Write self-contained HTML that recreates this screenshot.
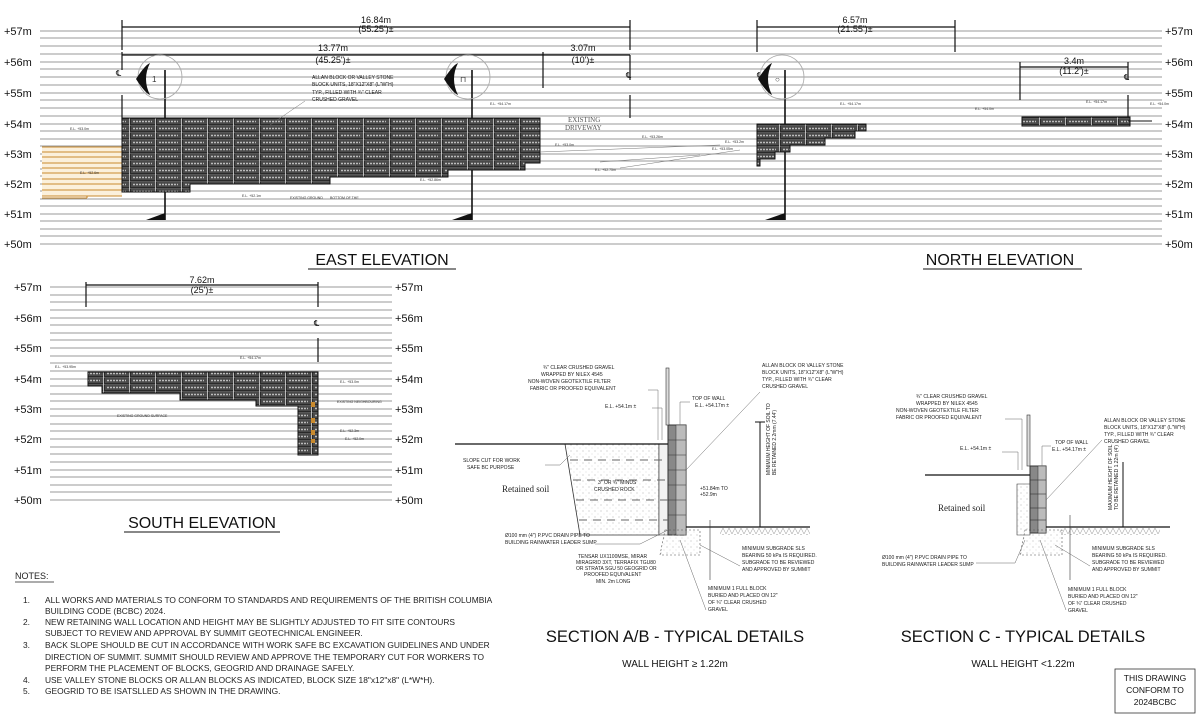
<!DOCTYPE html>
<html><head><meta charset="utf-8"><style>
html,body{margin:0;padding:0;background:#fff;}
svg{display:block;font-family:"Liberation Sans",sans-serif;}
</style></head><body>
<svg width="1200" height="717" viewBox="0 0 1200 717" xmlns="http://www.w3.org/2000/svg">
<defs>
<pattern id="blk" x="0" y="118" width="26" height="7" patternUnits="userSpaceOnUse">
<rect width="26" height="7" fill="#2a2a2a"/>
<rect x="1" y="1" width="24" height="5" fill="#4a4a4a"/>
<line x1="3" y1="3.5" x2="22" y2="3.5" stroke="#bbb" stroke-width="1.4" stroke-dasharray="2 1"/>
<line x1="0" y1="0" x2="26" y2="0" stroke="#ddd" stroke-width="0.6"/>
<line x1="25.5" y1="0" x2="25.5" y2="7" stroke="#ddd" stroke-width="0.8"/>
</pattern>
<pattern id="dots" width="6" height="6" patternUnits="userSpaceOnUse">
<circle cx="1" cy="1" r="0.5" fill="#999"/><circle cx="4" cy="4" r="0.4" fill="#aaa"/>
</pattern>
<pattern id="hatch" width="6" height="6" patternUnits="userSpaceOnUse">
<path d="M0 6 L3 0 L6 6" fill="none" stroke="#aaa" stroke-width="0.6"/>
</pattern>
</defs>

<g stroke="#777" stroke-width="0.8">
<line x1="40" y1="31" x2="1162" y2="31"/><line x1="40" y1="38" x2="1162" y2="38"/><line x1="40" y1="46" x2="1162" y2="46"/><line x1="40" y1="54" x2="1162" y2="54"/>
<line x1="40" y1="62" x2="1162" y2="62"/><line x1="40" y1="69" x2="1162" y2="69"/><line x1="40" y1="77" x2="1162" y2="77"/><line x1="40" y1="85" x2="1162" y2="85"/>
<line x1="40" y1="93" x2="1162" y2="93"/><line x1="40" y1="100" x2="1162" y2="100"/><line x1="40" y1="108" x2="1162" y2="108"/><line x1="40" y1="116" x2="1162" y2="116"/>
<line x1="40" y1="124" x2="1162" y2="124"/><line x1="40" y1="131" x2="1162" y2="131"/><line x1="40" y1="139" x2="1162" y2="139"/><line x1="40" y1="146" x2="1162" y2="146"/>
<line x1="40" y1="154" x2="1162" y2="154"/><line x1="40" y1="161" x2="1162" y2="161"/><line x1="40" y1="169" x2="1162" y2="169"/><line x1="40" y1="176" x2="1162" y2="176"/>
<line x1="40" y1="184" x2="1162" y2="184"/><line x1="40" y1="191" x2="1162" y2="191"/><line x1="40" y1="199" x2="1162" y2="199"/><line x1="40" y1="206" x2="1162" y2="206"/>
<line x1="40" y1="214" x2="1162" y2="214"/><line x1="40" y1="221" x2="1162" y2="221"/><line x1="40" y1="229" x2="1162" y2="229"/><line x1="40" y1="236" x2="1162" y2="236"/>
<line x1="40" y1="244" x2="1162" y2="244"/>
</g>
<g font-size="11" fill="#111">
<text x="4" y="35">+57m</text><text x="4" y="66">+56m</text><text x="4" y="97">+55m</text><text x="4" y="128">+54m</text><text x="4" y="158">+53m</text><text x="4" y="188">+52m</text><text x="4" y="218">+51m</text><text x="4" y="248">+50m</text>
<text x="1165" y="35">+57m</text><text x="1165" y="66">+56m</text><text x="1165" y="97">+55m</text><text x="1165" y="128">+54m</text><text x="1165" y="158">+53m</text><text x="1165" y="188">+52m</text><text x="1165" y="218">+51m</text><text x="1165" y="248">+50m</text>
</g>

<g stroke="#111" stroke-width="1.2" fill="none">
<line x1="122" y1="27" x2="630" y2="27"/><line x1="122" y1="20" x2="122" y2="50"/><line x1="630" y1="20" x2="630" y2="50"/>
<line x1="122" y1="55" x2="630" y2="55"/><line x1="122" y1="52" x2="122" y2="70"/><line x1="543" y1="52" x2="543" y2="88"/><line x1="630" y1="55" x2="630" y2="80"/><line x1="630" y1="95" x2="630" y2="118"/>
<line x1="122" y1="95" x2="122" y2="124"/>
<line x1="757" y1="27" x2="955" y2="27"/><line x1="757" y1="20" x2="757" y2="52"/><line x1="955" y1="20" x2="955" y2="52"/>
<line x1="1020" y1="67" x2="1128" y2="67"/><line x1="1020" y1="62" x2="1020" y2="100"/><line x1="1128" y1="62" x2="1128" y2="80"/><line x1="1128" y1="95" x2="1128" y2="124"/>
</g>
<g font-size="9" fill="#111" text-anchor="middle">
<text x="376" y="23">16.84m</text><text x="376" y="32">(55.25')±</text>
<text x="333" y="51">13.77m</text><text x="333" y="63">(45.25')±</text>
<text x="583" y="51">3.07m</text><text x="583" y="63">(10')±</text>
<text x="855" y="23">6.57m</text><text x="855" y="32">(21.55')±</text>
<text x="1074" y="64">3.4m</text><text x="1074" y="74">(11.2')±</text>
</g>
<g font-size="8" fill="#111"><text x="116" y="76">℄</text><text x="626" y="78">℄</text><text x="757" y="78">℄</text><text x="1124" y="80">℄</text></g>

<g stroke="#111" stroke-width="1.6" fill="none">
<line x1="165" y1="70" x2="165" y2="220"/><line x1="472" y1="70" x2="472" y2="220"/><line x1="785" y1="70" x2="785" y2="220"/>
</g>
<g stroke="#aaa" fill="none" stroke-width="0.8"><circle cx="160" cy="77" r="22"/><circle cx="468" cy="77" r="22"/><circle cx="782" cy="77" r="22"/></g>
<g fill="#111">
<path d="M136 79 Q145 65 150 63 Q142 79 150 95 Q145 93 136 79Z"/>
<path d="M444 79 Q453 65 458 63 Q450 79 458 95 Q453 93 444 79Z"/>
<path d="M758 79 Q767 65 772 63 Q764 79 772 95 Q767 93 758 79Z"/>
<path d="M146 220 L165 213 L165 220Z"/><path d="M452 220 L472 213 L472 220Z"/><path d="M765 220 L785 213 L785 220Z"/>
</g>
<g font-size="8" fill="#333"><text x="152" y="82">1</text><text x="460" y="82">⊓</text><text x="775" y="82">○</text></g>

<g>
<rect x="42" y="147" width="80" height="49" fill="#fbf0dc"/>
<g stroke="#c98a2e" stroke-width="1.1">
<line x1="42" y1="147" x2="122" y2="147"/><line x1="42" y1="152" x2="122" y2="152"/><line x1="42" y1="157" x2="122" y2="157"/><line x1="42" y1="163" x2="122" y2="163"/><line x1="42" y1="168" x2="122" y2="168"/><line x1="42" y1="173" x2="122" y2="173"/><line x1="42" y1="179" x2="122" y2="179"/><line x1="42" y1="184" x2="122" y2="184"/><line x1="42" y1="190" x2="122" y2="190"/><line x1="42" y1="196" x2="122" y2="196"/><line x1="42" y1="198" x2="87" y2="198"/><line x1="87" y1="196" x2="87" y2="198"/>
</g></g>

<path d="M122 118 H540 V163 H525 V170 H448 V177 H330 V184 H190 V192 H122 Z" fill="url(#blk)" stroke="#111"/>
<path d="M757 124 H866 V131 H855 V138 H825 V145 H790 V152 H775 V159 H760 V166 H757 Z" fill="url(#blk)" stroke="#111"/>
<path d="M1022 117 H1130 V126 H1022 Z" fill="url(#blk)" stroke="#111"/>
<line x1="1128" y1="121" x2="1152" y2="121" stroke="#111"/>

<g font-size="3.5" fill="#333">
<text x="70" y="130">E.L. +53.0m</text><text x="80" y="174">E.L. +52.6m</text><text x="490" y="105">E.L. +54.17m</text><text x="555" y="146">E.L. +53.0m</text>
<text x="242" y="197">E.L. +52.1m</text><text x="290" y="199">EXISTING GROUND</text><text x="330" y="199">BOTTOM OF THE</text><text x="420" y="181">E.L. +52.86m</text>
<text x="642" y="138">E.L. +53.26m</text><text x="595" y="171">E.L. +52.75m</text><text x="725" y="143">E.L. +53.2m</text><text x="712" y="150">E.L. +53.05m</text>
<text x="840" y="105">E.L. +54.17m</text><text x="975" y="110">E.L. +54.0m</text><text x="1086" y="103">E.L. +54.17m</text><text x="1150" y="105">E.L. +54.0m</text>
</g>
<g font-size="5" fill="#222"><text x="312" y="79">ALLAN BLOCK OR VALLEY STONE</text><text x="312" y="86">BLOCK UNITS, 18"X12"X8" (L"W"H)</text><text x="312" y="94">TYP., FILLED WITH ¾" CLEAR</text><text x="312" y="101">CRUSHED GRAVEL</text></g>
<g font-family="Liberation Serif,serif" font-size="7" fill="#555"><text x="568" y="122">EXISTING</text><text x="565" y="130">DRIVEWAY</text></g>
<g stroke="#777" stroke-width="0.5" fill="none"><path d="M305 101 L270 125"/><path d="M540 152 L720 145"/><path d="M600 162 L700 155"/><path d="M620 168 L740 150"/></g>

<g font-size="16" fill="#111" text-anchor="middle">
<text x="382" y="265">EAST ELEVATION</text><text x="1000" y="265">NORTH ELEVATION</text>
</g>
<line x1="308" y1="269" x2="456" y2="269" stroke="#111"/><line x1="923" y1="269" x2="1082" y2="269" stroke="#111"/>

<g stroke="#777" stroke-width="0.8">
<line x1="50" y1="287" x2="392" y2="287"/><line x1="50" y1="295" x2="392" y2="295"/><line x1="50" y1="302" x2="392" y2="302"/><line x1="50" y1="310" x2="392" y2="310"/>
<line x1="50" y1="318" x2="392" y2="318"/><line x1="50" y1="325" x2="392" y2="325"/><line x1="50" y1="333" x2="392" y2="333"/><line x1="50" y1="340" x2="392" y2="340"/>
<line x1="50" y1="348" x2="392" y2="348"/><line x1="50" y1="356" x2="392" y2="356"/><line x1="50" y1="363" x2="392" y2="363"/><line x1="50" y1="371" x2="392" y2="371"/>
<line x1="50" y1="379" x2="392" y2="379"/><line x1="50" y1="386" x2="392" y2="386"/><line x1="50" y1="394" x2="392" y2="394"/><line x1="50" y1="401" x2="392" y2="401"/>
<line x1="50" y1="409" x2="392" y2="409"/><line x1="50" y1="416" x2="392" y2="416"/><line x1="50" y1="424" x2="392" y2="424"/><line x1="50" y1="431" x2="392" y2="431"/>
<line x1="50" y1="439" x2="392" y2="439"/><line x1="50" y1="447" x2="392" y2="447"/><line x1="50" y1="454" x2="392" y2="454"/><line x1="50" y1="462" x2="392" y2="462"/>
<line x1="50" y1="470" x2="392" y2="470"/><line x1="50" y1="477" x2="392" y2="477"/><line x1="50" y1="485" x2="392" y2="485"/><line x1="50" y1="492" x2="392" y2="492"/>
<line x1="50" y1="500" x2="392" y2="500"/>
</g>
<g font-size="11" fill="#111">
<text x="14" y="291">+57m</text><text x="14" y="322">+56m</text><text x="14" y="352">+55m</text><text x="14" y="383">+54m</text><text x="14" y="413">+53m</text><text x="14" y="443">+52m</text><text x="14" y="474">+51m</text><text x="14" y="504">+50m</text>
<text x="395" y="291">+57m</text><text x="395" y="322">+56m</text><text x="395" y="352">+55m</text><text x="395" y="383">+54m</text><text x="395" y="413">+53m</text><text x="395" y="443">+52m</text><text x="395" y="474">+51m</text><text x="395" y="504">+50m</text>
</g>
<g stroke="#111" stroke-width="1.2"><line x1="86" y1="285" x2="318" y2="285"/><line x1="86" y1="282" x2="86" y2="307"/><line x1="318" y1="282" x2="318" y2="307"/><line x1="318" y1="338" x2="318" y2="362"/></g>
<g font-size="9" fill="#111" text-anchor="middle"><text x="202" y="283">7.62m</text><text x="202" y="293">(25')±</text></g>
<text x="314" y="326" font-size="8">℄</text>
<path d="M88 372 H318 V455 H298 V406 H256 V400 H180 V393 H102 V386 H88 Z" fill="url(#blk)" stroke="#111"/>
<g fill="#c98a2e"><rect x="311" y="402" width="4" height="5"/><rect x="311" y="418" width="4" height="5"/><rect x="311" y="430" width="4" height="5"/><rect x="311" y="439" width="4" height="4"/></g>
<g font-size="3.5" fill="#333"><text x="55" y="368">E.L. +53.95m</text><text x="240" y="359">E.L. +54.17m</text><text x="340" y="383">E.L. +53.0m</text><text x="337" y="403">EXISTING NEIGHBOURING</text><text x="340" y="432">E.L. +52.3m</text><text x="345" y="440">E.L. +52.0m</text><text x="117" y="417">EXISTING GROUND SURFACE</text></g>
<text x="202" y="528" font-size="16" text-anchor="middle" fill="#111">SOUTH ELEVATION</text>
<line x1="124" y1="532" x2="280" y2="532" stroke="#111"/>

<g fill="#222" font-size="8.4">
<text x="15" y="579" font-size="9">NOTES:</text>
<text x="23" y="603">1.</text><text x="45" y="603">ALL WORKS AND MATERIALS TO CONFORM TO STANDARDS AND REQUIREMENTS OF THE BRITISH COLUMBIA</text>
<text x="45" y="614">BUILDING CODE (BCBC) 2024.</text>
<text x="23" y="625">2.</text><text x="45" y="625">NEW RETAINING WALL LOCATION AND HEIGHT MAY BE SLIGHTLY ADJUSTED TO FIT SITE CONTOURS</text>
<text x="45" y="636">SUBJECT TO REVIEW AND APPROVAL BY SUMMIT GEOTECHNICAL ENGINEER.</text>
<text x="23" y="648">3.</text><text x="45" y="648">BACK SLOPE SHOULD BE CUT IN ACCORDANCE WITH WORK SAFE BC EXCAVATION GUIDELINES AND UNDER</text>
<text x="45" y="660">DIRECTION OF SUMMIT.  SUMMIT SHOULD REVIEW AND APPROVE THE TEMPORARY CUT FOR WORKERS TO</text>
<text x="45" y="671">PERFORM THE PLACEMENT OF BLOCKS, GEOGRID AND DRAINAGE SAFELY.</text>
<text x="23" y="683">4.</text><text x="45" y="683">USE VALLEY STONE BLOCKS OR ALLAN BLOCKS AS INDICATED, BLOCK SIZE 18"x12"x8" (L*W*H).</text>
<text x="23" y="694">5.</text><text x="45" y="694">GEOGRID TO BE ISATSLLED AS SHOWN IN THE DRAWING.</text>
</g>
<line x1="15" y1="582" x2="54" y2="582" stroke="#222" stroke-width="0.8"/>

<g>
<path d="M565 444 L659 444 L659 535 L580 535 Z" fill="url(#dots)" stroke="#333" stroke-width="0.8"/>
<path d="M659 444 H668 V535 H659Z" fill="#f2f2f2" stroke="#333" stroke-width="0.6"/>
<rect x="668" y="425" width="18" height="110" fill="#888" stroke="#333"/>
<rect x="676" y="425" width="10" height="110" fill="#bbb" stroke="#333" stroke-width="0.5"/>
<g stroke="#333" stroke-width="0.6"><line x1="668" y1="440" x2="686" y2="440"/><line x1="668" y1="455" x2="686" y2="455"/><line x1="668" y1="470" x2="686" y2="470"/><line x1="668" y1="485" x2="686" y2="485"/><line x1="668" y1="500" x2="686" y2="500"/><line x1="668" y1="515" x2="686" y2="515"/></g>
<g stroke="#666" stroke-width="1" stroke-dasharray="8 6"><line x1="570" y1="460" x2="668" y2="460"/><line x1="573" y1="480" x2="668" y2="480"/><line x1="576" y1="500" x2="668" y2="500"/><line x1="579" y1="520" x2="668" y2="520"/></g>
<path d="M665 530 H700 V555 H660Z" fill="url(#dots)" stroke="#555" stroke-width="0.6" stroke-dasharray="2 2"/>
<rect x="666" y="368" width="3" height="57" fill="#ddd" stroke="#333" stroke-width="0.6"/>
<line x1="455" y1="444" x2="668" y2="444" stroke="#111" stroke-width="1.2"/>
<line x1="686" y1="527" x2="810" y2="527" stroke="#111" stroke-width="1.2"/>
<rect x="720" y="528" width="90" height="7" fill="url(#hatch)"/>
<line x1="760" y1="422" x2="760" y2="527" stroke="#111"/><line x1="755" y1="422" x2="765" y2="422" stroke="#111"/>
<line x1="710" y1="520" x2="710" y2="580" stroke="#333" stroke-width="0.6"/>
</g>
<g font-size="5" fill="#222">
<text x="543" y="369">¾" CLEAR CRUSHED GRAVEL</text><text x="541" y="376">WRAPPED BY NILEX 4545</text><text x="528" y="383">NON-WOVEN GEOTEXTILE FILTER</text><text x="530" y="390">FABRIC OR PROOFED EQUIVALENT</text>
<text x="605" y="408">E.L. +54.1m ±</text><text x="692" y="400">TOP OF WALL</text><text x="695" y="407">E.L. +54.17m ±</text>
<text x="762" y="367">ALLAN BLOCK OR VALLEY STONE</text><text x="762" y="374">BLOCK UNITS, 18"X12"X8" (L"W"H)</text><text x="762" y="381">TYP., FILLED WITH ¾" CLEAR</text><text x="762" y="388">CRUSHED GRAVEL</text>
<text x="463" y="462">SLOPE CUT FOR WORK</text><text x="467" y="469">SAFE BC PURPOSE</text>
<text x="598" y="484">3" OR ¾" MINUS</text><text x="594" y="491">CRUSHED ROCK</text>
<text x="700" y="490">+51.84m TO</text><text x="700" y="496">+52.9m</text>
<text x="505" y="537">Ø100 mm (4") P.PVC DRAIN PIPE TO</text><text x="505" y="544">BUILDING RAINWATER LEADER SUMP</text>
<text x="578" y="558">TENSAR UX1100MSE, MIRAR</text><text x="576" y="564">MIRAGRID 3XT, TERRAFIX TGU80</text><text x="576" y="570">OR STRATA SGU 50 GEOGRID OR</text><text x="584" y="576">PROOFED EQUIVALENT</text><text x="596" y="583">MIN. 2m LONG</text>
<text x="742" y="550">MINIMUM SUBGRADE SLS</text><text x="742" y="557">BEARING 50 kPa IS REQUIRED.</text><text x="742" y="564">SUBGRADE TO BE REVIEWED</text><text x="742" y="571">AND APPROVED BY SUMMIT</text>
<text x="708" y="590">MINIMUM 1 FULL BLOCK</text><text x="708" y="597">BURIED AND PLACED ON 12"</text><text x="708" y="604">OF ¾" CLEAR CRUSHED</text><text x="708" y="611">GRAVEL</text>
</g>
<text x="502" y="492" font-family="Liberation Serif,serif" font-size="9" fill="#222">Retained soil</text>
<text x="770" y="475" font-size="5" fill="#222" transform="rotate(-90 770 475)">MINIMUM HEIGHT OF SOIL TO</text>
<text x="776" y="475" font-size="5" fill="#222" transform="rotate(-90 776 475)">BE RETAINED 2.2mm (7.44')</text>
<g stroke="#666" stroke-width="0.5" fill="none"><path d="M648 390 H658 V440"/><path d="M652 408 H662 V440"/><path d="M690 402 H680 V425"/><path d="M760 392 L686 470"/><path d="M595 544 H640 L668 530"/><path d="M545 465 H560 L570 455"/><path d="M740 566 L700 545"/><path d="M706 610 L680 540"/></g>
<text x="675" y="642" font-size="16.5" text-anchor="middle" fill="#111">SECTION A/B - TYPICAL DETAILS</text>
<text x="675" y="667" font-size="10" text-anchor="middle" fill="#111">WALL HEIGHT ≥ 1.22m</text>

<g>
<path d="M1017 484 H1030 V535 H1017Z" fill="url(#dots)" stroke="#333" stroke-width="0.6"/>
<rect x="1030" y="466" width="16" height="67" fill="#888" stroke="#333"/>
<rect x="1038" y="466" width="8" height="67" fill="#bbb" stroke="#333" stroke-width="0.5"/>
<g stroke="#333" stroke-width="0.6"><line x1="1030" y1="480" x2="1046" y2="480"/><line x1="1030" y1="494" x2="1046" y2="494"/><line x1="1030" y1="508" x2="1046" y2="508"/><line x1="1030" y1="520" x2="1046" y2="520"/></g>
<path d="M1025 530 H1062 V555 H1020Z" fill="url(#dots)" stroke="#555" stroke-width="0.6" stroke-dasharray="2 2"/>
<rect x="1027" y="415" width="3" height="51" fill="#ddd" stroke="#333" stroke-width="0.6"/>
<line x1="925" y1="475" x2="1030" y2="475" stroke="#111" stroke-width="1.2"/>
<line x1="1046" y1="527" x2="1170" y2="527" stroke="#111" stroke-width="1.2"/>
<rect x="1060" y="528" width="100" height="7" fill="url(#hatch)"/>
<line x1="1123" y1="462" x2="1123" y2="527" stroke="#111"/>
<line x1="1070" y1="515" x2="1070" y2="580" stroke="#333" stroke-width="0.6"/>
</g>
<g font-size="5" fill="#222">
<text x="916" y="398">¾" CLEAR CRUSHED GRAVEL</text><text x="916" y="405">WRAPPED BY NILEX 4545</text><text x="896" y="412">NON-WOVEN GEOTEXTILE FILTER</text><text x="896" y="419">FABRIC OR PROOFED EQUIVALENT</text>
<text x="960" y="450">E.L. +54.1m ±</text><text x="1055" y="444">TOP OF WALL</text><text x="1052" y="451">E.L. +54.17m ±</text>
<text x="1104" y="422">ALLAN BLOCK OR VALLEY STONE</text><text x="1104" y="429">BLOCK UNITS, 18"X12"X8" (L"W"H)</text><text x="1104" y="436">TYP., FILLED WITH ¾" CLEAR</text><text x="1104" y="443">CRUSHED GRAVEL</text>
<text x="882" y="559">Ø100 mm (4") P.PVC DRAIN PIPE TO</text><text x="882" y="566">BUILDING RAINWATER LEADER SUMP</text>
<text x="1092" y="550">MINIMUM SUBGRADE SLS</text><text x="1092" y="557">BEARING 50 kPa IS REQUIRED.</text><text x="1092" y="564">SUBGRADE TO BE REVIEWED</text><text x="1092" y="571">AND APPROVED BY SUMMIT</text>
<text x="1068" y="591">MINIMUM 1 FULL BLOCK</text><text x="1068" y="598">BURIED AND PLACED ON 12"</text><text x="1068" y="605">OF ¾" CLEAR CRUSHED</text><text x="1068" y="612">GRAVEL</text>
</g>
<text x="938" y="511" font-family="Liberation Serif,serif" font-size="9" fill="#222">Retained soil</text>
<text x="1112" y="510" font-size="5" fill="#222" transform="rotate(-90 1112 510)">MAXIMUM HEIGHT OF SOIL</text>
<text x="1118" y="510" font-size="5" fill="#222" transform="rotate(-90 1118 510)">TO BE RETAINED 1.22m (4')</text>
<g stroke="#666" stroke-width="0.5" fill="none"><path d="M1005 419 H1022 V470"/><path d="M1002 452 H1018 V470"/><path d="M1051 446 H1042 V466"/><path d="M1102 440 L1046 500"/><path d="M976 563 H1015 L1025 540"/><path d="M1090 566 L1055 545"/><path d="M1066 610 L1040 540"/></g>
<text x="1023" y="642" font-size="16.5" text-anchor="middle" fill="#111">SECTION C - TYPICAL DETAILS</text>
<text x="1023" y="667" font-size="10" text-anchor="middle" fill="#111">WALL HEIGHT &lt;1.22m</text>

<rect x="1115" y="669" width="80" height="44" fill="none" stroke="#333" stroke-width="0.8"/>
<g font-size="8.5" fill="#111" text-anchor="middle"><text x="1155" y="681">THIS DRAWING</text><text x="1155" y="693">CONFORM TO</text><text x="1155" y="705">2024BCBC</text></g>
</svg>
</body></html>
